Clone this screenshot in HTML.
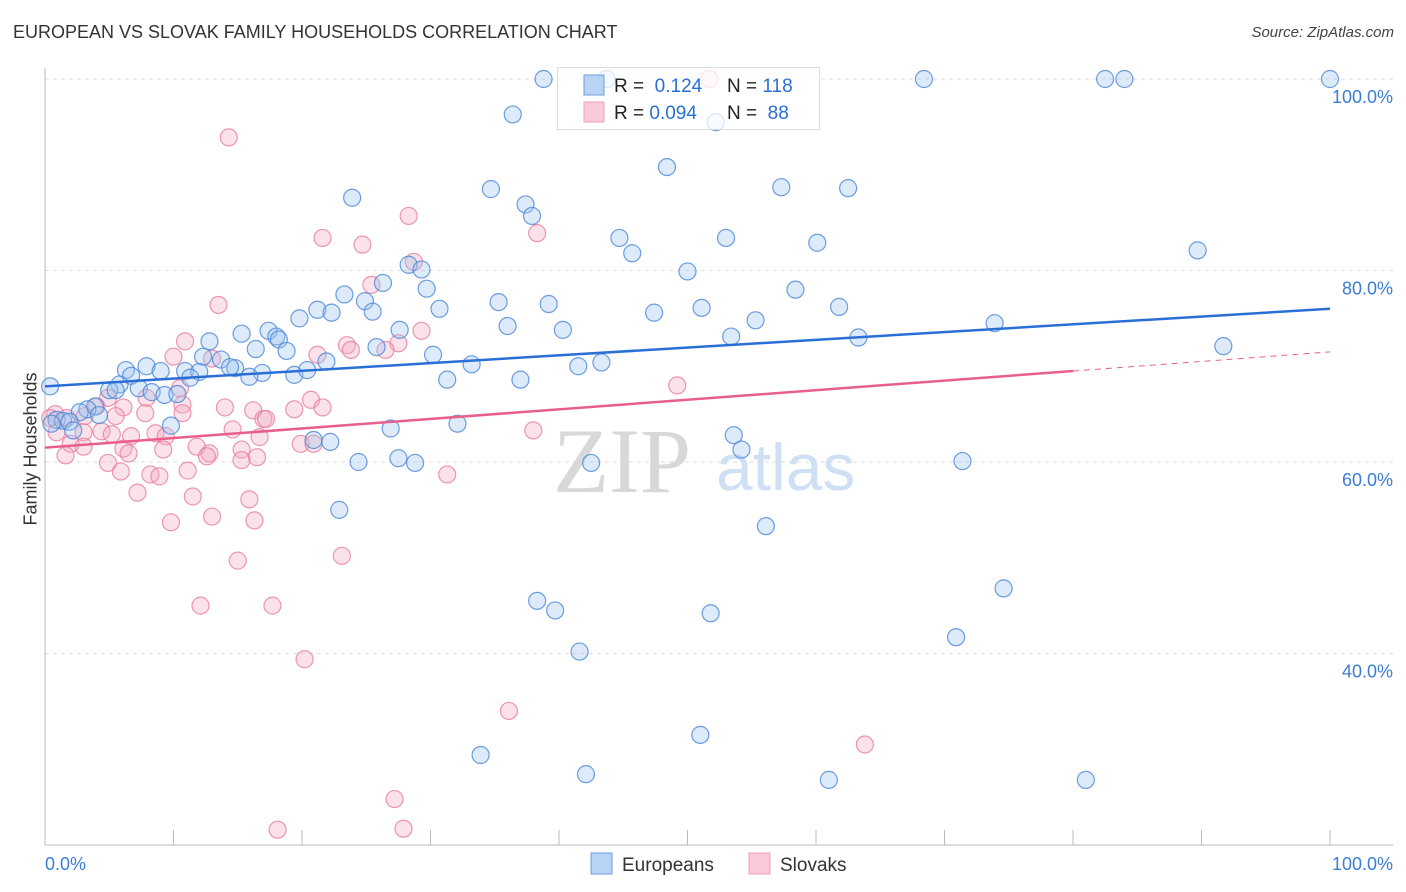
<!DOCTYPE html>
<html><head><meta charset="utf-8">
<style>
body{margin:0;background:#fff;font-family:"Liberation Sans",sans-serif;}
#wrap{position:relative;width:1406px;height:892px;overflow:hidden;}
.t{position:absolute;white-space:nowrap;}
</style></head>
<body>
<div id="wrap">
<div class="t" style="left:13px;top:22px;font-size:18px;color:#333;">EUROPEAN VS SLOVAK FAMILY HOUSEHOLDS CORRELATION CHART</div>
<div class="t" style="right:12px;top:24px;font-size:15px;color:#444;font-style:italic;">Source: ZipAtlas.com</div>
<div class="t" style="left:-39px;top:445px;font-size:18px;color:#333;transform:rotate(-90deg);width:140px;text-align:center;">Family Households</div>
<svg id="svg" width="1406" height="892" style="position:absolute;left:0;top:0"></svg>
</div>
<script>
const blueX=[0.4,38.8,43.7,68.4,82.5,84.0,100,36.4,52.2,48.4,34.7,57.3,62.5,23.9,37.4,37.9,44.7,53.0,60.1,45.7,89.7,28.3,29.3,50.0,26.3,29.7,58.4,23.3,35.3,39.2,24.9,30.7,21.2,22.3,25.5,19.8,47.4,51.1,61.8,36.0,40.3,55.3,73.9,15.3,17.4,18.0,18.2,27.6,53.4,63.3,12.8,16.4,18.8,25.8,30.2,91.7,7.9,9.0,12.3,13.7,14.8,16.9,19.4,33.2,41.5,43.3,6.3,6.7,10.9,12.0,15.9,11.3,14.4,20.4,37.0,31.3,21.9,5.8,5.0,5.5,7.3,8.3,9.3,10.3,3.9,3.3,2.7,4.2,0.9,1.4,1.9,2.2,0.5,9.8,20.9,26.9,32.1,53.6,54.2,22.2,24.4,27.5,28.8,42.5,71.4,22.9,56.1,74.6,38.3,39.7,51.8,70.9,41.6,51.0,33.9,42.1,61.0,81.0];
const blueY=[67.9,100,100,100,100,100,100,96.3,95.5,90.8,88.5,88.7,88.6,87.6,86.9,85.7,83.4,83.4,82.9,81.8,82.1,80.6,80.1,79.9,78.7,78.1,78.0,77.5,76.7,76.5,76.8,76.0,75.9,75.6,75.7,75.0,75.6,76.1,76.2,74.2,73.8,74.8,74.5,73.4,73.7,73.1,72.8,73.8,73.1,73.0,72.6,71.8,71.6,72.0,71.2,72.1,70.0,69.5,71.0,70.7,69.8,69.3,69.1,70.2,70.0,70.4,69.6,69.0,69.5,69.4,68.9,68.8,69.9,69.6,68.6,68.6,70.5,68.1,67.5,67.5,67.7,67.3,67.0,67.1,65.8,65.5,65.2,64.9,64.4,64.3,64.2,63.3,64.0,63.8,62.3,63.5,64.0,62.8,61.3,62.1,60.0,60.4,59.9,59.9,60.1,55.0,53.3,46.8,45.5,44.5,44.2,41.7,40.2,31.5,29.4,27.4,26.8,26.8];
const pinkX=[14.3,28.3,38.3,21.6,24.7,28.7,25.4,13.5,29.3,23.5,27.5,10.9,23.8,26.5,21.2,10.0,13.0,49.2,4.9,4.0,6.1,7.9,10.5,10.7,14.0,16.2,17.0,20.7,19.4,21.6,14.6,17.2,0.8,0.4,1.7,3.1,5.5,7.8,10.7,3.0,4.4,5.2,6.7,8.6,9.4,11.8,12.8,12.6,15.3,16.7,19.9,20.9,2.0,3.0,0.9,6.1,6.5,9.2,1.6,4.9,5.9,8.2,8.9,11.1,15.3,16.5,31.3,38.0,11.5,7.2,15.9,9.8,13.0,16.3,23.1,15.0,12.1,17.7,20.2,36.1,63.8,27.2,18.1,27.9,51.7];
const pinkY=[93.9,85.7,83.9,83.4,82.7,80.9,78.5,76.4,73.7,72.2,72.4,72.6,71.7,71.7,71.2,71.0,70.8,68.0,66.7,65.8,65.7,66.7,67.7,66.0,65.7,65.4,64.5,66.5,65.5,65.7,63.4,64.5,65.0,64.6,64.6,64.8,64.8,65.1,65.1,63.1,63.2,62.9,62.7,63.0,62.7,61.6,60.9,60.6,61.3,62.6,61.9,61.9,61.9,61.6,63.1,61.4,60.9,61.3,60.7,59.9,59.0,58.7,58.5,59.1,60.2,60.5,58.7,63.3,56.4,56.8,56.1,53.7,54.3,53.9,50.2,49.7,45.0,45.0,39.4,34.0,30.5,24.8,21.6,21.7,100];
const blueTrend=[67.9,76.0];
const pinkTrend=[61.5,71.5];
const yTicks=[100,80,60,40];
const svg=document.getElementById('svg');
const NS='http://www.w3.org/2000/svg';
const X0=45,X1=1330,Y100=79,PXPER=9.575;
function sx(v){return X0+(X1-X0)*v/100;}
function sy(v){return Y100+(100-v)*PXPER;}
function mk(tag,attrs){const e=document.createElementNS(NS,tag);for(const k in attrs)e.setAttribute(k,attrs[k]);svg.appendChild(e);return e;}
// gridlines
yTicks.forEach(t=>{
 const g=mk('line',{x1:45,x2:1393,y1:sy(t),y2:sy(t),stroke:'#ddd','stroke-dasharray':'4,4'});
 
 
 const tx=mk('text',{x:1393,y:sy(t)+24,'text-anchor':'end','font-size':18,fill:'#3b7dd8','font-family':'Liberation Sans, sans-serif'});
 tx.textContent=t.toFixed(1)+'%';
 
 
});
// axes
let a=mk('line',{x1:45,x2:45,y1:68,y2:845,stroke:'#bbb'});


a=mk('line',{x1:45,x2:1393,y1:845,y2:845,stroke:'#bbb'});


for(let i=0;i<=10;i++){
 const t=mk('line',{x1:sx(i*10),x2:sx(i*10),y1:830,y2:845,stroke:'#bbb'});
 
 
}
// watermark
let w=mk('text',{x:553,y:492,'font-size':92,fill:'#d8d8d8','font-family':'Liberation Serif, serif'});
w.textContent='ZIP';


w=mk('text',{x:716,y:490,'font-size':66,fill:'#cfe0f5','font-family':'Liberation Sans, sans-serif'});
w.textContent='atlas';


// points
function pts(xs,ys,fill,stroke,name){
 xs.forEach((x,i)=>{
  const c=mk('circle',{cx:sx(x),cy:sy(ys[i]),r:8.5,fill:fill,'fill-opacity':0.35,stroke:stroke,'stroke-opacity':0.8,'stroke-width':1.2});
  
  
 });
}
pts(pinkX,pinkY,'#f4a9c0','#e87ea0','slovaks-point');
pts(blueX,blueY,'#9dc2ee','#4a86d8','europeans-point');
// trends
let l=mk('line',{x1:sx(0),y1:sy(blueTrend[0]),x2:sx(100),y2:sy(blueTrend[1]),stroke:'#2a6fd6','stroke-width':2.5});


const pm=80;
l=mk('line',{x1:sx(0),y1:sy(pinkTrend[0]),x2:sx(pm),y2:sy(pinkTrend[0]+(pinkTrend[1]-pinkTrend[0])*pm/100),stroke:'#e8608a','stroke-width':2.5});


l=mk('line',{x1:sx(pm),y1:sy(pinkTrend[0]+(pinkTrend[1]-pinkTrend[0])*pm/100),x2:sx(100),y2:sy(pinkTrend[1]),stroke:'#e8608a','stroke-width':1,'stroke-dasharray':'6,5'});


// legend box
let r=mk('rect',{x:557.5,y:67.5,width:262,height:62,fill:'#fff','fill-opacity':0.75,stroke:'#ddd'});


function legRow(y,fill,stroke,rv,nv,nm){
 const s=mk('rect',{x:584,y:y-10,width:20,height:20,fill:fill,stroke:stroke});
 
 
 const t=mk('text',{x:614,y:y+7,'font-size':19,fill:'#222','font-family':'Liberation Sans, sans-serif'});
 t.innerHTML='R = <tspan fill="#2a6fd6">'+rv+'</tspan><tspan x="727">N = </tspan><tspan fill="#2a6fd6">'+nv+'</tspan>';
 
 
}
legRow(85,'#b9d3f5','#6c9de0','&#160;0.124','118','europeans');
legRow(112,'#fbcad8','#eea0b8','0.094','&#160;88','slovaks');
// x labels
let xl=mk('text',{x:45,y:870,'font-size':18,fill:'#3b7dd8','font-family':'Liberation Sans, sans-serif'});
xl.textContent='0.0%';


xl=mk('text',{x:1393,y:870,'text-anchor':'end','font-size':18,fill:'#3b7dd8','font-family':'Liberation Sans, sans-serif'});
xl.textContent='100.0%';


// bottom legend
function bl(x,fill,stroke,label,nm){
 const s=mk('rect',{x:x,y:853,width:21,height:21,fill:fill,stroke:stroke});
 
 
 const t=mk('text',{x:x+31,y:871,'font-size':19,fill:'#333','font-family':'Liberation Sans, sans-serif'});
 t.textContent=label;
 
 
}
bl(591,'#b9d3f5','#6c9de0','Europeans','europeans');
bl(749,'#fbcad8','#eea0b8','Slovaks','slovaks');
</script>
</body></html>
